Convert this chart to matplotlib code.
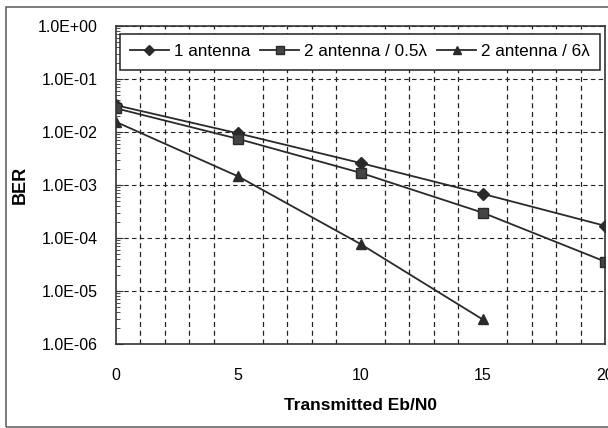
import matplotlib
matplotlib.use("Agg")
import matplotlib.pyplot as plt
from matplotlib.ticker import FixedLocator, FuncFormatter, LogLocator, NullFormatter
from matplotlib.patches import Rectangle

plt.rcParams['font.family'] = ['Liberation Sans', 'DejaVu Sans']

x_one = [0, 5, 10, 15, 20]
ber_one = [3.2e-2, 9.4e-3, 2.6e-3, 6.8e-4, 1.7e-4]
x_half = [0, 5, 10, 15, 20]
ber_half = [2.8e-2, 7.4e-3, 1.7e-3, 3.0e-4, 3.6e-5]
x_six = [0, 5, 10, 15]
ber_six = [1.55e-2, 1.45e-3, 7.7e-5, 2.9e-6]
labels = ["1 antenna", "2 antenna / 0.5λ", "2 antenna / 6λ"]
xticks = [0, 5, 10, 15, 20]
yticks = [1e0, 1e-1, 1e-2, 1e-3, 1e-4, 1e-5, 1e-6]

fig = plt.figure(figsize=(6.08, 4.28), dpi=100)
ax = fig.add_axes([116/608, 1-344/428, (605-116)/608, (344-26)/428])

lc = '#2a2a2a'
ax.plot(x_one, ber_one, color=lc, lw=1.3, marker='D', ms=6, mfc=lc, mec=lc, label=labels[0])
ax.plot(x_half, ber_half, color=lc, lw=1.3, marker='s', ms=6.5, mfc='#444444', mec=lc, label=labels[1])
ax.plot(x_six, ber_six, color=lc, lw=1.3, marker='^', ms=7, mfc=lc, mec=lc, label=labels[2])

ax.set_yscale('log')
ax.set_ylim(1e-6, 1e0)
ax.set_xlim(0, 20)
ax.yaxis.set_major_locator(FixedLocator(yticks))
ax.yaxis.set_major_formatter(FuncFormatter(lambda v, p: "%.1E" % v))
ax.yaxis.set_minor_locator(LogLocator(base=10, subs=range(2, 10)))
ax.yaxis.set_minor_formatter(NullFormatter())
ax.xaxis.set_major_locator(FixedLocator(xticks))
ax.xaxis.set_minor_locator(FixedLocator(list(range(0, 21))))

ax.tick_params(axis='y', which='major', direction='in', length=5, labelsize=11.5, pad=13, color='#333333')
ax.tick_params(axis='y', which='minor', direction='in', length=3, color='#333333')
ax.tick_params(axis='x', which='both', length=0, labelsize=11.5, pad=17)

ax.grid(True, which='major', axis='y', color='#222222', lw=0.8, ls=(0, (4, 3)))
ax.grid(True, which='minor', axis='x', color='#222222', lw=0.9, ls=(0, (4, 3)))
ax.grid(False, which='minor', axis='y')

for s in ax.spines.values():
    s.set_color('#333333')
    s.set_linewidth(1.2)

ax.set_ylabel("BER", fontsize=13, fontweight='bold')
ax.yaxis.set_label_coords(-(116-29)/489, 0.5)
ax.set_xlabel("Transmitted Eb/N0", fontsize=12.5, fontweight='bold', labelpad=11)

leg = ax.legend(loc='upper left',
                bbox_to_anchor=((120-116)/489, 1-(70-26)/318, (600-120)/489, (70-34)/318),
                mode='expand', ncol=3, fontsize=12.3, frameon=True, fancybox=False,
                edgecolor='#222222', handlelength=2.25, handletextpad=0.3, columnspacing=0.8,
                borderaxespad=0, borderpad=0.6, markerscale=0.8, framealpha=1)
leg.get_frame().set_linewidth(1.1)

fig.patches.append(Rectangle((6/608, 1-427/428), 1.0, (427-7)/428, transform=fig.transFigure,
                             fill=False, edgecolor='#666666', lw=1.2))

fig.savefig("out.png", dpi=100)
